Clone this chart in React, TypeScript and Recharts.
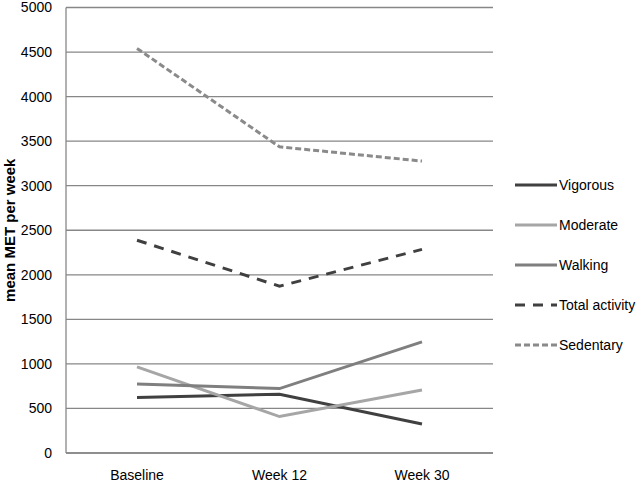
import { LineChart, Line, XAxis, YAxis, CartesianGrid } from 'recharts';

const categories = ['Baseline', 'Week 12', 'Week 30'];
const vigorous = [622, 659, 326];
const moderate = [966, 409, 708];
const walking = [775, 723, 1247];
const totalActivity = [2388, 1872, 2285];
const sedentary = [4541, 3436, 3276];
const yTicks = [0, 500, 1000, 1500, 2000, 2500, 3000, 3500, 4000, 4500, 5000];

const series = [
  { key: 'vigorous', name: 'Vigorous', color: '#404040', dash: undefined },
  { key: 'moderate', name: 'Moderate', color: '#a6a6a6', dash: undefined },
  { key: 'walking', name: 'Walking', color: '#7f7f7f', dash: undefined },
  { key: 'total', name: 'Total activity', color: '#404040', dash: '10 8' },
  { key: 'sedentary', name: 'Sedentary', color: '#8a8a8a', dash: '6 3' },
];

const data = categories.map((name, i) => ({
  name,
  vigorous: vigorous[i],
  moderate: moderate[i],
  walking: walking[i],
  total: totalActivity[i],
  sedentary: sedentary[i],
}));

const font = '"Liberation Sans", Arial, sans-serif';
const gridColor = '#878787';

function YLabel({ viewBox }: any) {
  const cy = viewBox.y + viewBox.height / 2;
  return (
    <text
      x={15}
      y={cy}
      transform={`rotate(-90, 15, ${cy})`}
      textAnchor="middle"
      fontFamily={font}
      fontSize={15}
      fontWeight="bold"
      fill="#000"
    >
      mean MET per week
    </text>
  );
}

export default function App() {
  return (
    <div style={{ position: 'absolute', left: 0, top: 0, width: 640, height: 482, background: '#fff' }}>
      <LineChart
        width={640}
        height={482}
        data={data}
        margin={{ top: 7.5, right: 147, bottom: 0, left: 0 }}
      >
        <CartesianGrid vertical={false} stroke={gridColor} strokeWidth={1.3} />
        <XAxis
          dataKey="name"
          height={29}
          padding={{ left: 71, right: 71 }}
          axisLine={{ stroke: gridColor, strokeWidth: 1.3 }}
          tickLine={false}
          tickSize={6}
          tickMargin={11}
          tick={{ fontFamily: font, fontSize: 14, fill: '#000' }}
        />
        <YAxis
          width={66}
          domain={[0, 5000]}
          ticks={yTicks}
          interval={0}
          axisLine={{ stroke: gridColor, strokeWidth: 1.3 }}
          tickLine={false}
          tickSize={6}
          tickMargin={8}
          tick={{ fontFamily: font, fontSize: 14, fill: '#000' }}
          label={<YLabel />}
        />
        {series.map((s) => (
          <Line
            key={s.key}
            type="linear"
            dataKey={s.key}
            name={s.name}
            stroke={s.color}
            strokeWidth={3}
            strokeDasharray={s.dash}
            dot={false}
            activeDot={false}
            isAnimationActive={false}
          />
        ))}
      </LineChart>
      <div style={{ position: 'absolute', left: 514, top: 165, fontFamily: font, fontSize: 14 }}>
        {series.map((s) => (
          <div key={s.key} style={{ display: 'flex', alignItems: 'center', height: 40 }}>
            <svg width={44} height={10}>
              <line x1={1} y1={5} x2={43} y2={5} stroke={s.color} strokeWidth={3} strokeDasharray={s.dash} />
            </svg>
            <span style={{ marginLeft: 1 }}>{s.name}</span>
          </div>
        ))}
      </div>
    </div>
  );
}
